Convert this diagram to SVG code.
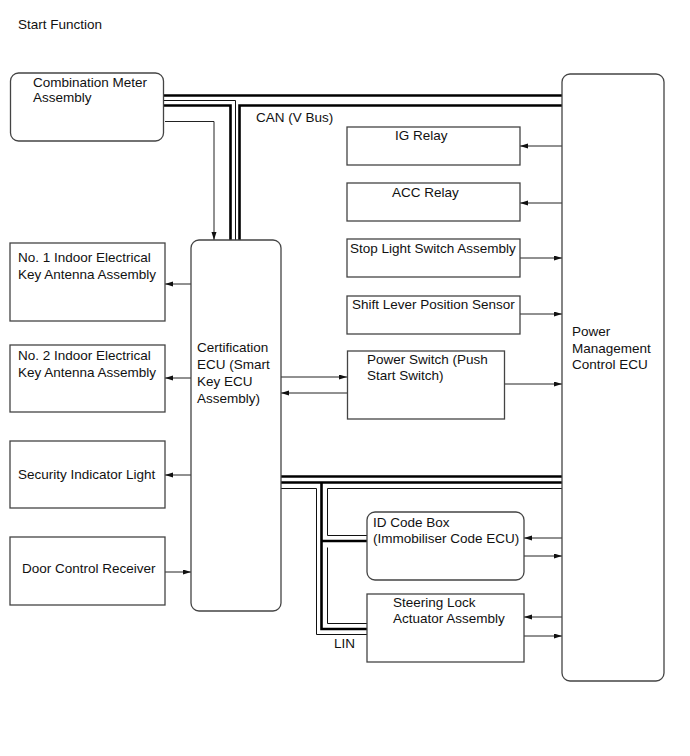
<svg xmlns="http://www.w3.org/2000/svg" width="690" height="756" viewBox="0 0 690 756">
<defs>
<marker id="ah" markerUnits="userSpaceOnUse" markerWidth="9" markerHeight="6" refX="8" refY="2.5" orient="auto">
<path d="M0,0 L8,2.5 L0,5 z" fill="#111"/>
</marker>
<style>
text{font-family:"Liberation Sans",Arial,sans-serif;font-size:13.5px;fill:#111}
.box{fill:#fff;stroke:#444;stroke-width:1.3}
.arr{fill:none;stroke:#222;stroke-width:1;marker-end:url(#ah)}
.thick{fill:none;stroke:#000;stroke-width:2.6}
.thin{fill:none;stroke:#111;stroke-width:1}
</style>
</defs>
<rect width="690" height="756" fill="#fff"/>
<text x="18" y="29">Start Function</text>

<g id="connectors">
<path class="thick" d="M163,95.5 H562"/>
<path class="thin" d="M163,100.5 H235.5 V240"/>
<path class="thick" d="M163,105.5 H230.5 V240"/>
<path class="thick" d="M239.5,240 V105.5 H562"/>
<text x="256" y="122">CAN (V Bus)</text>

<path class="thick" d="M281,476.5 H562"/>
<path class="thick" d="M281,482.5 H562 M321.5,482.5 V629 H367 M321.5,541 H367"/>
<path class="thin" d="M281,488.5 H316.5 V634.5 H367"/>
<path class="thin" d="M562,488.5 H327.5 V535.5 H367 M327.5,547.5 V623.5 H367"/>
<text x="334" y="648">LIN</text>

<path class="arr" d="M165,121.5 H214 V240"/>
<path class="arr" d="M562,146 H520"/>
<path class="arr" d="M562,203 H520"/>
<path class="arr" d="M520,258 H562"/>
<path class="arr" d="M520,314 H562"/>
<path class="arr" d="M281,377 H347"/>
<path class="arr" d="M347,393 H281"/>
<path class="arr" d="M505,384 H562"/>
<path class="arr" d="M562,538 H524"/>
<path class="arr" d="M524,556 H562"/>
<path class="arr" d="M562,617 H524"/>
<path class="arr" d="M524,636 H562"/>
<path class="arr" d="M191,284 H165"/>
<path class="arr" d="M191,378 H165"/>
<path class="arr" d="M191,475 H165"/>
<path class="arr" d="M165,572 H191"/>
</g>

<g id="meter">
<rect class="box" x="10.5" y="73" width="153" height="68" rx="8"/>
<text x="33" y="87">Combination Meter</text>
<text x="33" y="102">Assembly</text>
</g>
<g id="cert">
<rect class="box" x="191" y="240" width="90" height="371" rx="8"/>
<text x="197" y="352">Certification</text>
<text x="197" y="369">ECU (Smart</text>
<text x="197" y="386">Key ECU</text>
<text x="197" y="403">Assembly)</text>
</g>
<g id="pm">
<rect class="box" x="562" y="74" width="102" height="607" rx="8"/>
<text x="572" y="336">Power</text>
<text x="572" y="353">Management</text>
<text x="572" y="369">Control ECU</text>
</g>
<g id="ig">
<rect class="box" x="347" y="127" width="173" height="38"/>
<text x="395" y="140">IG Relay</text>
</g>
<g id="acc">
<rect class="box" x="347" y="183" width="173" height="38"/>
<text x="392" y="197">ACC Relay</text>
</g>
<g id="stop">
<rect class="box" x="347" y="239" width="173" height="38"/>
<text x="350" y="253">Stop Light Switch Assembly</text>
</g>
<g id="shift">
<rect class="box" x="347" y="296" width="173" height="38"/>
<text x="352" y="309">Shift Lever Position Sensor</text>
</g>
<g id="pswitch">
<rect class="box" x="347.5" y="351" width="157" height="68"/>
<text x="367" y="364">Power Switch (Push</text>
<text x="367" y="380">Start Switch)</text>
</g>
<g id="idbox">
<rect class="box" x="367" y="512" width="157" height="68" rx="8"/>
<text x="373" y="527">ID Code Box</text>
<text x="373" y="543">(Immobiliser Code ECU)</text>
</g>
<g id="steer">
<rect class="box" x="367" y="594" width="157" height="68"/>
<text x="393" y="607">Steering Lock</text>
<text x="393" y="623">Actuator Assembly</text>
</g>
<g id="ant1">
<rect class="box" x="10" y="243" width="155" height="78"/>
<text x="18" y="262">No. 1 Indoor Electrical</text>
<text x="18" y="279">Key Antenna Assembly</text>
</g>
<g id="ant2">
<rect class="box" x="10" y="345" width="155" height="67"/>
<text x="18" y="360">No. 2 Indoor Electrical</text>
<text x="18" y="377">Key Antenna Assembly</text>
</g>
<g id="sec">
<rect class="box" x="10" y="441" width="155" height="67"/>
<text x="18" y="479">Security Indicator Light</text>
</g>
<g id="door">
<rect class="box" x="10" y="537" width="155" height="68"/>
<text x="22" y="573">Door Control Receiver</text>
</g>
</svg>
